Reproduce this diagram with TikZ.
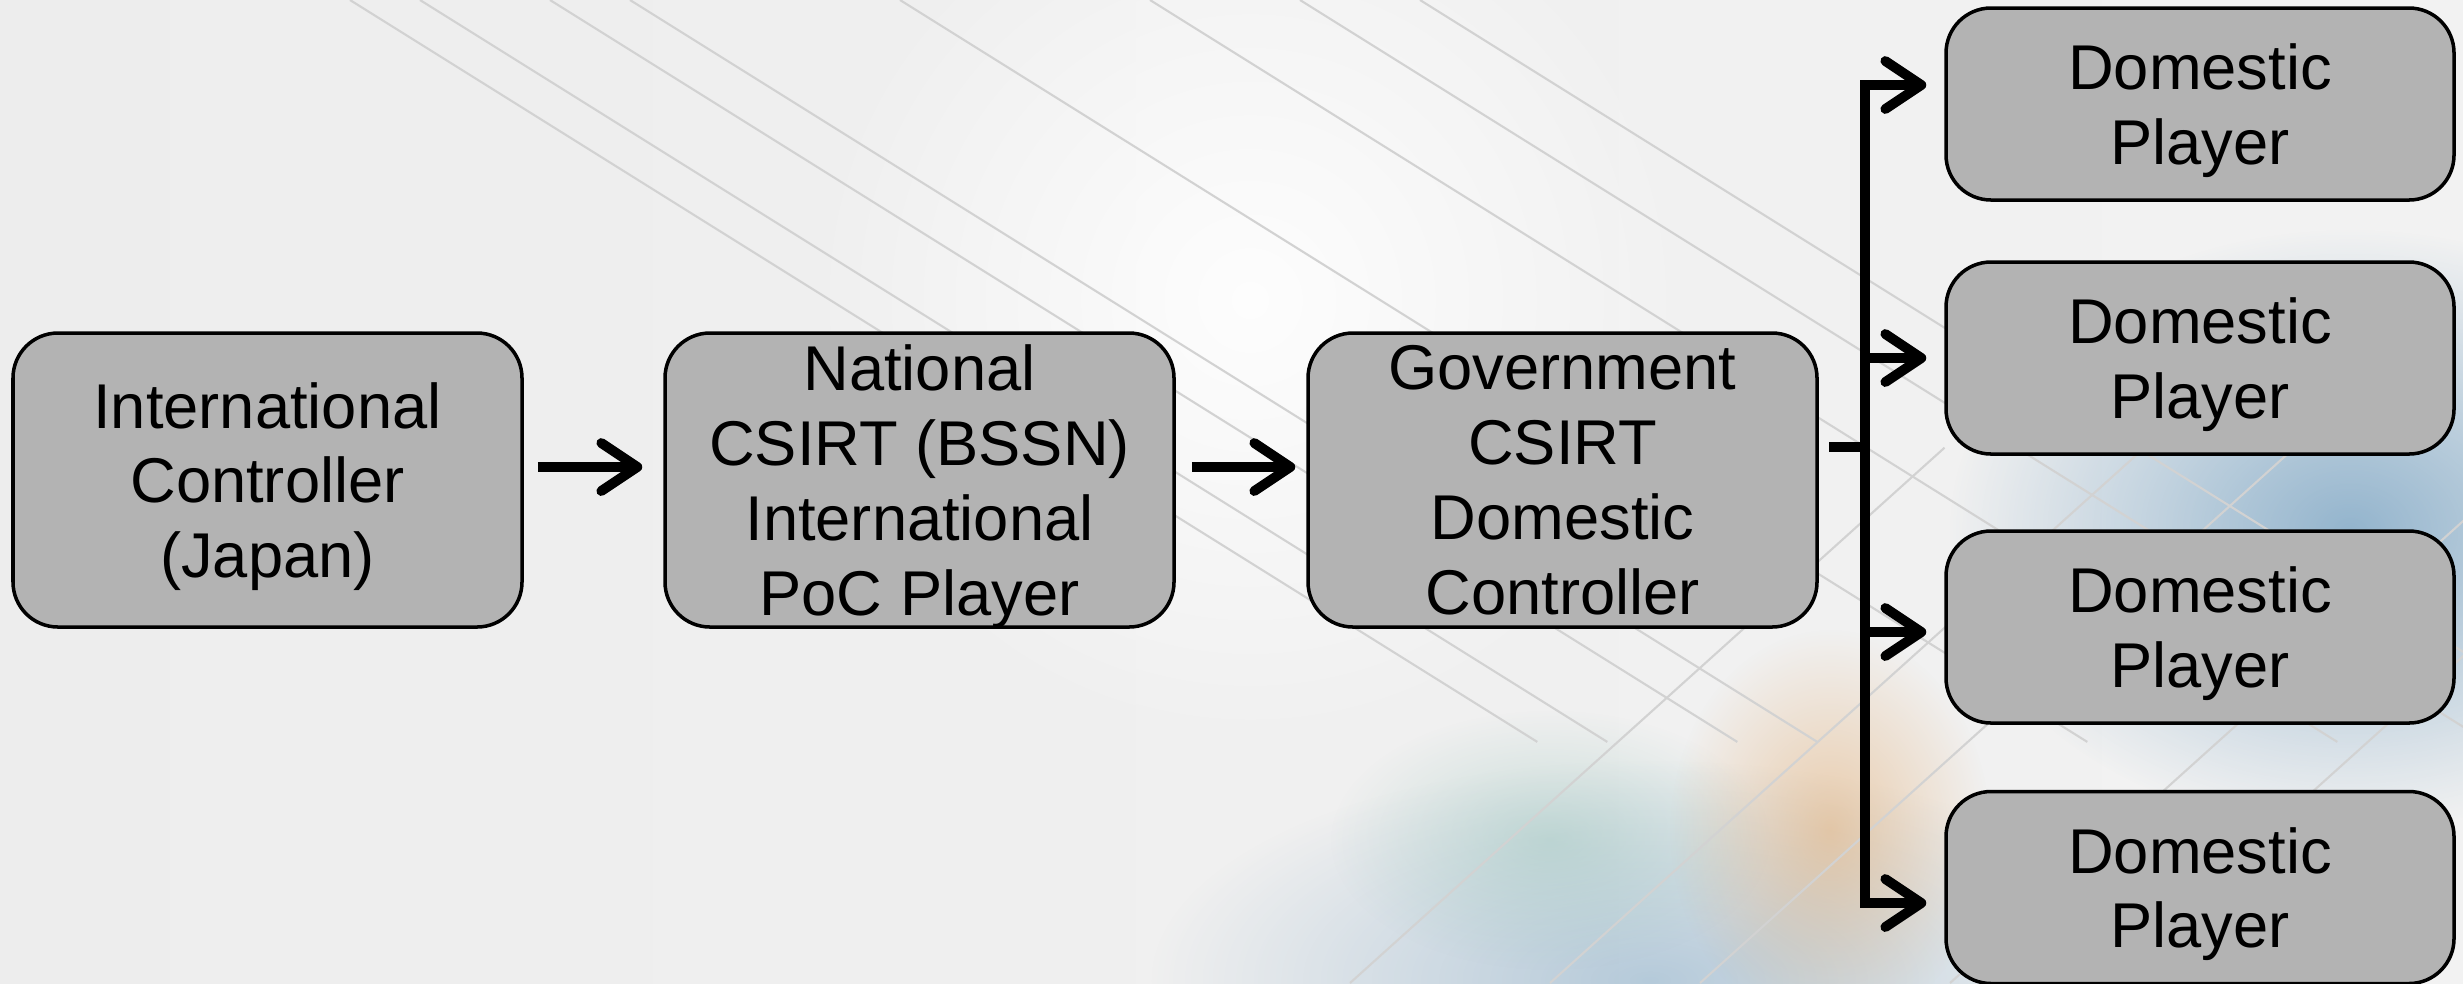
\documentclass[tikz,border=0pt]{standalone}
\usepackage{fontspec}
\setmainfont{Liberation Sans}
\usetikzlibrary{arrows.meta,fadings}

\definecolor{boxgray}{RGB}{179,179,179}
\definecolor{techblue}{RGB}{70,130,175}
\definecolor{techorange}{RGB}{225,165,100}
\definecolor{techgreen}{RGB}{150,195,185}

\tikzfading[name=softspot, inner color=transparent!0, outer color=transparent!100]

\tikzset{
  card/.style={draw=black, line width=1pt, fill=boxgray, rounded corners=0.45cm,
    inner sep=0pt, align=center, text depth=0pt, font=\fontsize{18}{21.3}\selectfont},
  bigcard/.style={card, minimum width=5.09cm, minimum height=2.94cm},
  smallcard/.style={card, minimum width=5.08cm, minimum height=1.92cm},
  flow/.style={line width=2.8pt, -{Straight Barb[length=3.6mm,width=4.8mm,round]}},
  trunk/.style={line width=2.8pt, line cap=rect},
  wire/.style={gray!35, line width=0.6pt},
  patch/.style={path fading=softspot},
}

\begin{document}
\begin{tikzpicture}
   \def\W{24.63}
   \def\H{-9.83}
   \def\Y{-4.80}
   \def\Xt{18.65}

   \useasboundingbox (0,0) rectangle (\W,\H);
	% background
        \shade[left color=gray!14, middle color=gray!4, right color=gray!10] (0,0) rectangle (\W,\H);
        \fill[white, opacity=0.9, patch] (12.5,-3.0) circle (4.5);
        \fill[techblue, opacity=0.55, patch] (23.5,-5.3) ellipse (4 and 3);
        \fill[techblue, opacity=0.35, patch] (16.5,-9.8) ellipse (5 and 2.2);
        \fill[techgreen, opacity=0.45, patch] (15.5,-8.4) ellipse (2.2 and 1.3);
        \fill[techorange, opacity=0.5, patch] (18.3,-8.3) ellipse (1.6 and 2);
        \foreach \s in {3.5,4.2,5.5,6.3,9.0,11.5,13.0,14.2} {
          \draw[wire] (\s,0) -- ++(-32:14);
        }
        \foreach \s in {13.5,15.5,17.0,19.5,21.0} {
          \draw[wire] (\s,\H) -- ++(42:8);
        }

	% boxes
        \node[bigcard] (intl) at (2.675,\Y) {International\\Controller\\(Japan)};
        \node[bigcard] (natl) at (9.195,\Y) {National\\CSIRT (BSSN)\\International\\PoC Player};
        \node[bigcard] (gov) at (15.625,\Y) {Government\\CSIRT\\Domestic\\Controller};
        \node[smallcard] (dom1) at (22.00,-1.04) {Domestic\\Player};
        \node[smallcard] (dom2) at (22.00,-3.58) {Domestic\\Player};
        \node[smallcard] (dom3) at (22.00,-6.27) {Domestic\\Player};
        \node[smallcard] (dom4) at (22.00,-8.875) {Domestic\\Player};

        % chain arrows
        \draw[flow] ([shift={(0.14,0.13)}]intl.east) -- ([shift={(-0.21,0.13)}]natl.west);
        \draw[flow] ([shift={(0.16,0.13)}]natl.east) -- ([shift={(-0.11,0.13)}]gov.west);

        % fork
        \coordinate (fork) at (\Xt,-4.47);
        \coordinate (top) at (\Xt,-0.85);
        \coordinate (mid1) at (\Xt,-3.58);
        \coordinate (mid2) at (\Xt,-6.32);
        \coordinate (bot) at (\Xt,-9.03);
        \draw[trunk] ([shift={(0.15,0.33)}]gov.east) -- (fork);
        \draw[trunk] (top) -- (bot);
        \draw[flow] (top) -- ([shift={(-0.18,0.19)}]dom1.west);
        \draw[flow] (mid1) -- ([xshift=-0.18cm]dom2.west);
        \draw[flow] (mid2) -- ([shift={(-0.18,-0.05)}]dom3.west);
        \draw[flow] (bot) -- ([shift={(-0.18,-0.155)}]dom4.west);
\end{tikzpicture}
\end{document}
